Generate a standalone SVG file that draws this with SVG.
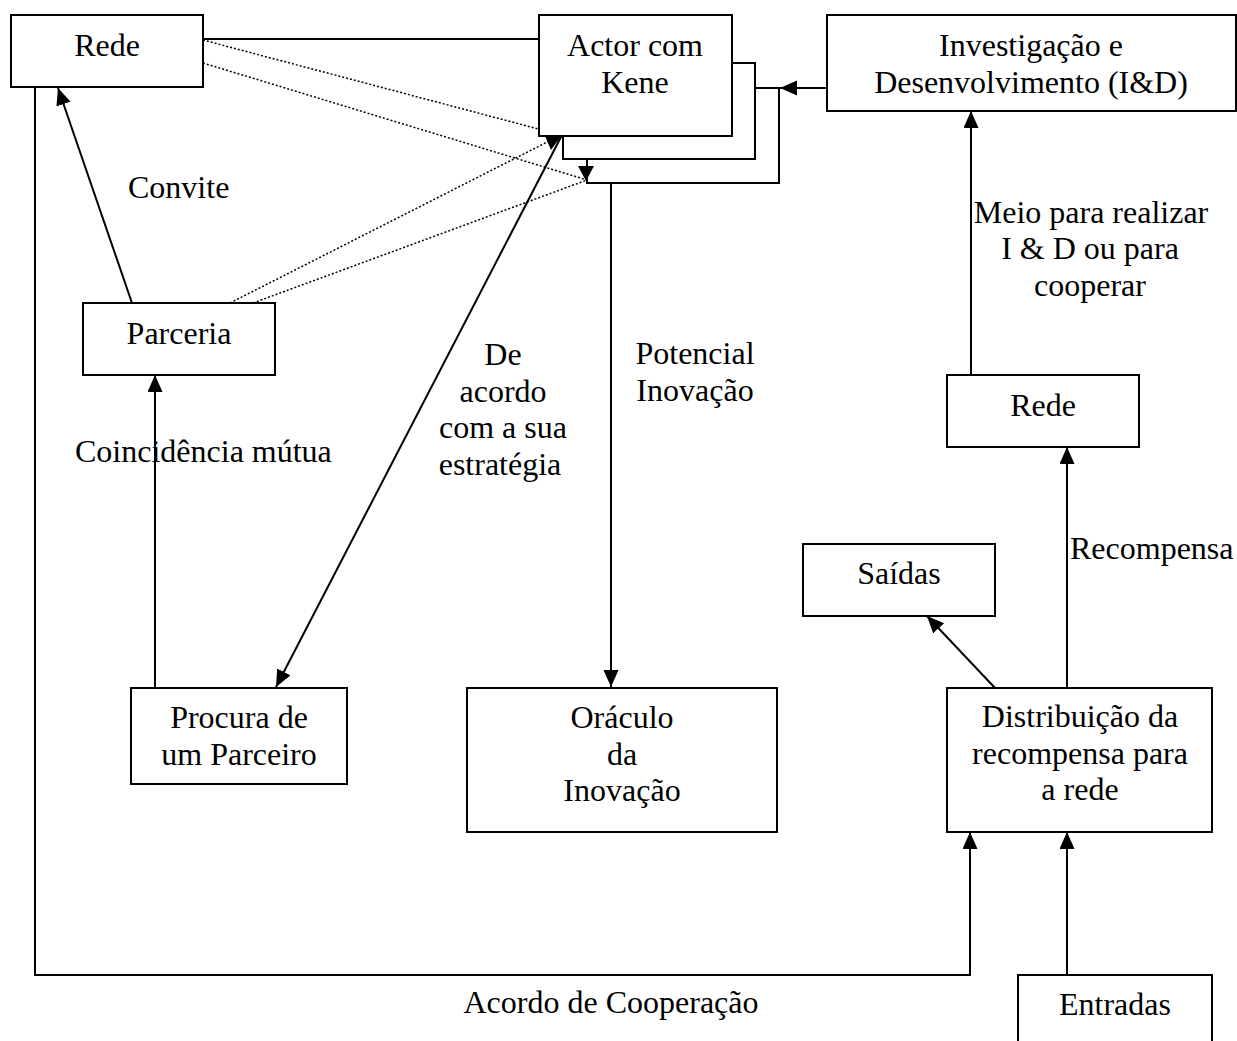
<svg xmlns="http://www.w3.org/2000/svg" width="1237" height="1041" viewBox="0 0 1237 1041">
<style>
  .box { fill: #fff; stroke: #000; stroke-width: 2; }
  .t { font-family: "Liberation Serif", "Times New Roman", serif; font-size: 32px; fill: #000; }
  .c { text-anchor: middle; }
  .ln { fill: none; stroke: #000; stroke-width: 2; }
  .dot { fill: none; stroke: #000; stroke-width: 1.5; stroke-dasharray: 2 2; }
</style>
<defs>
  <marker id="ah" markerUnits="userSpaceOnUse" markerWidth="18" markerHeight="16" refX="17" refY="7.5" orient="auto">
    <path d="M0,0 L17,7.5 L0,15 z" fill="#000"/>
  </marker>
</defs>
<rect width="1237" height="1041" fill="#fff"/>

<g id="connectors">
  <path class="ln" d="M203,39 H539"/>
  <path class="dot" d="M203,40 L561,135"/>
  <path class="dot" d="M203,63 L587,180"/>
  <path class="dot" d="M230,303 L561,135"/>
  <path class="dot" d="M253,303 L587,180"/>
  <path class="ln" d="M755,88 H779 V183 H587 V159"/>
  <path class="ln" d="M827,88 H780" marker-end="url(#ah)"/>
  <polygon points="545,136 562,135 551,150" fill="#000"/>
  <polygon points="578,166 594,166 586,181" fill="#000"/>
  <path class="ln" d="M562,135 L276,687" marker-end="url(#ah)"/>
  <path class="ln" d="M611,183 V687" marker-end="url(#ah)"/>
  <path class="ln" d="M132,303 L58,88" marker-end="url(#ah)"/>
  <path class="ln" d="M155,688 V375" marker-end="url(#ah)"/>
  <path class="ln" d="M35,88 V975 H970 V832" marker-end="url(#ah)"/>
  <path class="ln" d="M1067,975 V832" marker-end="url(#ah)"/>
  <path class="ln" d="M995,688 L927,616" marker-end="url(#ah)"/>
  <path class="ln" d="M1067,688 V447" marker-end="url(#ah)"/>
  <path class="ln" d="M971,375 V111" marker-end="url(#ah)"/>
</g>

<g id="labels">
  <text class="t" x="128" y="198">Convite</text>
  <text class="t" x="75" y="462">Coincidência mútua</text>
  <text class="t c" x="503" y="365">De</text>
  <text class="t c" x="503" y="402">acordo</text>
  <text class="t c" x="503" y="438">com a sua</text>
  <text class="t c" x="500" y="475">estratégia</text>
  <text class="t c" x="695" y="364">Potencial</text>
  <text class="t c" x="695" y="401">Inovação</text>
  <text class="t c" x="1091" y="223">Meio para realizar</text>
  <text class="t c" x="1090" y="259">I &amp; D ou para</text>
  <text class="t c" x="1090" y="296">cooperar</text>
  <text class="t" x="1070" y="559">Recompensa</text>
  <text class="t c" x="611" y="1013">Acordo de Cooperação</text>
</g>

<g id="rede-top">
  <rect class="box" x="11" y="15" width="192" height="72"/>
  <text class="t c" x="107" y="56">Rede</text>
</g>

<g id="actor">
  <rect class="box" x="563" y="63" width="192" height="96"/>
  <rect class="box" x="539" y="15" width="193" height="121"/>
  <text class="t c" x="635" y="56">Actor com</text>
  <text class="t c" x="635" y="93">Kene</text>
</g>

<g id="id-box">
  <rect class="box" x="827" y="15" width="409" height="96"/>
  <text class="t c" x="1031" y="56">Investigação e</text>
  <text class="t c" x="1031" y="93">Desenvolvimento (I&amp;D)</text>
</g>

<g id="parceria">
  <rect class="box" x="83" y="303" width="192" height="72"/>
  <text class="t c" x="179" y="344">Parceria</text>
</g>

<g id="rede-right">
  <rect class="box" x="947" y="375" width="192" height="72"/>
  <text class="t c" x="1043" y="416">Rede</text>
</g>

<g id="saidas">
  <rect class="box" x="803" y="544" width="192" height="72"/>
  <text class="t c" x="899" y="584">Saídas</text>
</g>

<g id="procura">
  <rect class="box" x="131" y="688" width="216" height="96"/>
  <text class="t c" x="239" y="728">Procura de</text>
  <text class="t c" x="239" y="765">um Parceiro</text>
</g>

<g id="oraculo">
  <rect class="box" x="467" y="688" width="310" height="144"/>
  <text class="t c" x="622" y="728">Oráculo</text>
  <text class="t c" x="622" y="765">da</text>
  <text class="t c" x="622" y="801">Inovação</text>
</g>

<g id="distribuicao">
  <rect class="box" x="947" y="688" width="265" height="144"/>
  <text class="t c" x="1080" y="727">Distribuição da</text>
  <text class="t c" x="1080" y="764">recompensa para</text>
  <text class="t c" x="1080" y="800">a rede</text>
</g>

<g id="entradas">
  <rect class="box" x="1018" y="975" width="194" height="90"/>
  <text class="t c" x="1115" y="1015">Entradas</text>
</g>
</svg>
